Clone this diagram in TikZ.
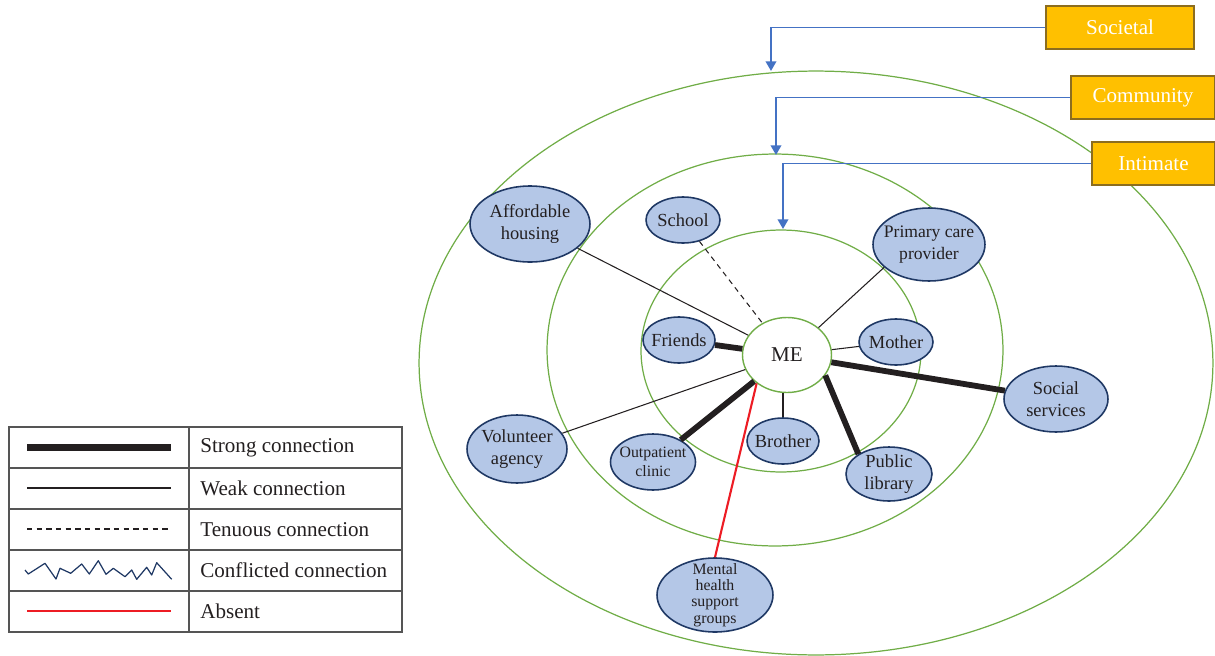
\documentclass[tikz,border=0pt]{standalone}
\usepackage{fontspec}
\setmainfont{Liberation Serif}
\usetikzlibrary{shapes.geometric,arrows.meta}
\definecolor{ringgreen}{HTML}{70AD47}
\definecolor{nodefill}{HTML}{B4C7E7}
\definecolor{nodeline}{HTML}{1F3864}
\definecolor{arrowblue}{HTML}{4472C4}
\definecolor{boxfill}{HTML}{FFC000}
\definecolor{boxline}{HTML}{8C6D1F}
\definecolor{txt}{HTML}{231F20}
\definecolor{absentred}{HTML}{ED1C24}
\definecolor{legline}{HTML}{555555}
\begin{document}
\begin{tikzpicture}[x=0.02cm,y=-0.02cm,
  ring/.style={draw=ringgreen, line width=0.7pt},
  actor/.style={ellipse, draw=nodeline, fill=nodefill, line width=0.9pt, inner xsep=-1cm, inner ysep=-1cm, align=center, text=txt, font=\fontsize{10.5}{12.5}\selectfont},
  level/.style={draw=boxline, fill=boxfill, line width=0.8pt, inner sep=0pt, text=white, font=\fontsize{12}{14}\selectfont, minimum height=0.86cm},
  pointer/.style={draw=arrowblue, line width=1.1pt, -{Triangle[width=6pt,length=5.5pt]}},
  strong/.style={draw=txt, line width=3.3pt},
  weak/.style={draw=txt, line width=0.6pt},
  tenuous/.style={draw=txt, line width=0.6pt, dash pattern=on 3pt off 2.5pt},
  absent/.style={draw=absentred, line width=1.2pt},
  conflict/.style={draw=nodeline, line width=0.7pt, line join=round},
  legtext/.style={anchor=west, text=txt, inner sep=0pt, font=\fontsize{12}{14}\selectfont}
]
\useasboundingbox (0,0) rectangle (1215,656);

% rings
\draw[ring] (816,363) ellipse [x radius=7.94cm, y radius=5.84cm];
\draw[ring] (775,350) ellipse [x radius=4.56cm, y radius=3.92cm];
\draw[ring] (781,351) ellipse [x radius=2.8cm, y radius=2.42cm];

% centre
\node[ellipse, draw=ringgreen, fill=white, line width=0.8pt, inner sep=0pt, minimum width=1.78cm, minimum height=1.5cm, text=txt, font=\fontsize{12}{14}\selectfont] (me) at (787,355) {ME};

% actors
\node[actor, minimum width=2.4cm, minimum height=1.52cm] (housing) at (530,224) {Affordable\\housing};
\node[actor, minimum width=1.48cm, minimum height=0.92cm] (school) at (683,220) {School};
\node[actor, minimum width=1.44cm, minimum height=0.92cm] (friends) at (679,340) {Friends};
\node[actor, minimum width=2.24cm, minimum height=1.46cm, font=\fontsize{10}{12.3}\selectfont] (primary) at (929,244.5) {Primary care\\provider};
\node[actor, minimum width=1.48cm, minimum height=0.92cm] (mother) at (896,342) {Mother};
\node[actor, minimum width=2.08cm, minimum height=1.32cm] (social) at (1056,399) {Social\\services};
\node[actor, minimum width=1.44cm, minimum height=0.92cm] (brother) at (783,441) {Brother};
\node[actor, minimum width=1.72cm, minimum height=1.08cm] (library) at (889,474) {Public\\library};
\node[actor, minimum width=1.7cm, minimum height=1.12cm, font=\fontsize{9}{10.8}\selectfont] (outpatient) at (653,462) {Outpatient\\clinic};
\node[actor, minimum width=2.0cm, minimum height=1.36cm] (volunteer) at (517,449) {Volunteer\\agency};
\node[actor, minimum width=2.32cm, minimum height=1.48cm, font=\fontsize{9}{9.3}\selectfont] (mental) at (715,595) {Mental\\health\\support\\groups};

% connectors
\draw[weak] (housing) -- (me);
\draw[tenuous] (school) -- (me);
\draw[strong] (friends) -- (me);
\draw[weak] (volunteer) -- (me);
\draw[strong] (outpatient) -- (me);
\draw[absent] (mental.north) -- (me.223);
\draw[weak] (brother.north) -- (brother.north |- me.south);
\draw[strong] (library.147) -- (me.332);
\draw[strong] (social) -- (me);
\draw[weak] (mother) -- (me);
\draw[weak] (primary.207) -- (me.41);

% level labels
\node[level, minimum width=2.96cm] (soc) at (1120,27.5) {Societal};
\node[level, minimum width=2.88cm] (com) at (1143,97.5) {Community};
\node[level, minimum width=2.46cm] (int) at (1153.5,163.5) {Intimate};
\coordinate (socT) at (771,71);
\coordinate (comT) at (776,155);
\coordinate (intT) at (783,229);
\draw[pointer] (soc.west) -| (socT);
\draw[pointer] (com.west) -| (comT);
\draw[pointer] (int.west) -| (intT);

% legend
\draw[legline, line width=0.8pt] (9,427) rectangle (402,632);
\draw[legline, line width=0.8pt] (189,427) -- (189,632);
\foreach \yy in {468,509,550,591} \draw[legline, line width=0.8pt] (9,\yy) -- (402,\yy);
\draw[strong, line width=3.8pt] (27,447.5) -- (171,447.5);
\draw[weak] (27,488) -- (171,488);
\draw[tenuous] (27,529) -- (171,529);
\draw[conflict] (25,570) -- (28.3,574) -- (45,563.3) -- (56,579) -- (60,568.3) -- (70.7,573.3) -- (81.7,564) -- (89.3,574) -- (98.3,560.7) -- (106,574.3) -- (113.3,568.3) -- (125,576.7) -- (131.7,570) -- (136.7,579.3) -- (146.7,567.3) -- (151.7,575) -- (156.7,562.7) -- (171.7,579.3);
\draw[absent] (27,611) -- (171,611);
\node[legtext] (l1) at (200,447.5) {Strong connection};
\node[legtext] (l2) at (200,488.5) {Weak connection};
\node[legtext] (l3) at (200,529.5) {Tenuous connection};
\node[legtext] (l4) at (200,570.5) {Conflicted connection};
\node[legtext] (l5) at (200,611.5) {Absent};
\end{tikzpicture}
\end{document}
